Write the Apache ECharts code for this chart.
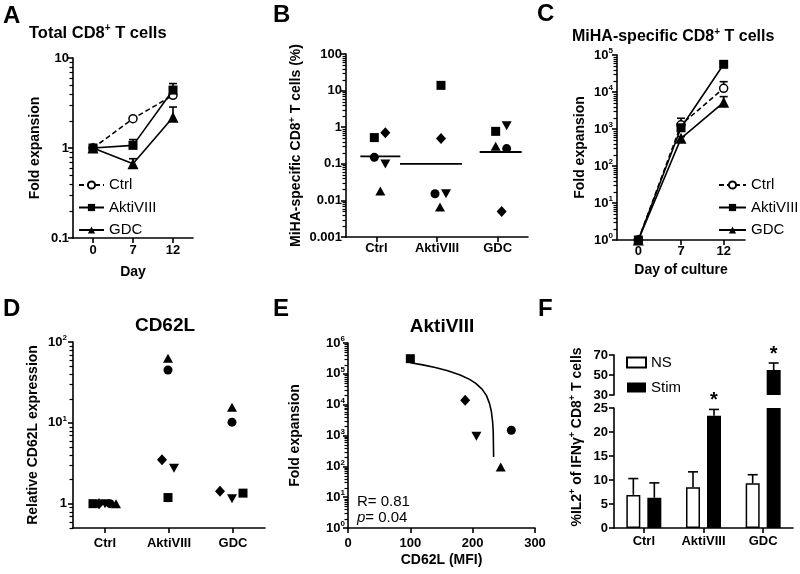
<!DOCTYPE html>
<html>
<head>
<meta charset="utf-8">
<script src="https://cdn.jsdelivr.net/npm/echarts@6.0.0/dist/echarts.min.js"></script>
<style>
html,body{margin:0;padding:0;background:#ffffff;}
#chart{width:800px;height:574px;}
</style>
</head>
<body>
<div id="chart"></div>
<script>
// ===================== DATA =====================
// Panel A – Total CD8+ T cells (fold expansion)
const dayCategories = ['0', '7', '12'];
const aCtrl    = [1, 2.12, 3.85];
const aCtrlErr = [1, 2.22, 4.05];
const aAkti    = [1, 1.07, 4.4];
const aAktiErr = [1, 1.24, 5.2];
const aGdc     = [1, 0.67, 2.2];
const aGdcErr  = [1, 0.76, 2.85];
const aYTicks  = [0.1, 1, 10];

// Panel B – MiHA-specific CD8+ T cells (%), one array per donor symbol
const groupCategories = ['Ctrl', 'AktiVIII', 'GDC'];
const bSquare  = [0.52, 13.9, 0.77];
const bDiamond = [0.70, 0.49, 0.005];
const bCircle  = [0.15, 0.0152, 0.26];
const bDownTri = [0.098, 0.0152, 1.1];
const bUpTri   = [0.018, 0.0066, 0.30];
const bCentral = [0.16, 0.10, 0.21];
const bYTicks  = [0.001, 0.01, 0.1, 1, 10, 100];

// Panel C – MiHA-specific CD8+ T cells (fold expansion)
const cCtrl    = [1, 1300, 12600];
const cCtrlErr = [1, 1950, 19000];
const cAkti    = [1, 1080, 56000];
const cAktiErr = [1, 1250, 62000];
const cGdc     = [1, 560, 5250];
const cGdcErr  = [1, 620, 7500];
const cYTicks  = [1, 10, 100, 1000, 10000, 100000];

// Panel D – Relative CD62L expression
const dSquare  = [1.0, 1.19, 1.35];
const dDiamond = [1.0, 3.5, 1.42];
const dCircle  = [1.0, 45, 10.2];
const dDownTri = [1.0, 2.75, 1.15];
const dUpTri   = [1.0, 63, 15.6];
const dYTicks  = [1, 10, 100];

// Panel E – AktiVIII: CD62L (MFI) vs fold expansion
const eSquare  = [100, 310000];
const eDiamond = [188, 13900];
const eDownTri = [206, 940];
const eCircle  = [262, 1480];
const eUpTri   = [245, 96];
const eFitX = [100, 120, 140, 160, 180, 195, 205, 215, 222, 227, 230, 232, 233, 233.6];
const eFitY = [228000, 195000, 160000, 126000, 92000, 66000, 49000, 32000, 20000, 11000, 6000, 2800, 1300, 200];
const eXTicks = [0, 100, 200, 300];
const eYTicks = [1, 10, 100, 1000, 10000, 100000, 1000000];
const eStats  = ['0.81', '0.04'];

// Panel F – %IL2+ of IFNγ+ CD8+ T cells
const fSeriesNames = ['NS', 'Stim'];
const fNS      = [6.9, 8.5, 9.3];
const fNSErr   = [10.3, 11.7, 11.1];
const fStim    = [6.3, 23.4, 55];
const fStimErr = [9.4, 24.7, 62];
const fStimSig = [false, true, true];
const fLowTicks  = [0, 5, 10, 15, 20, 25];
const fHighTicks = [30, 50, 70];

// ===================== STYLE / LAYOUT =====================
const FONT = '"Liberation Sans", Arial, Helvetica, sans-serif';
const BLACK = '#000000';
const LW = 1.6;

const GRIDS = [
  {left: 73,  top: 58,  width: 120, height: 180}, // A
  {left: 346, top: 54,  width: 182, height: 183}, // B
  {left: 617, top: 55,  width: 128, height: 185}, // C
  {left: 73,  top: 342, width: 192, height: 186}, // D
  {left: 348, top: 343, width: 187, height: 185}, // E
  {left: 614, top: 355, width: 179, height: 40},  // F upper (broken axis)
  {left: 614, top: 408, width: 179, height: 120}  // F lower
];

// jitter (px) of each donor symbol within a category
const JIT_B = {sq: [-2, 4, -2], di: [9, 4, 4], ci: [-2, -2, 9], dn: [9, 9, 9], up: [4, 3, -2]};
const JIT_D = {sq: [-12, -1, 10], di: [-6, -7, -13], ci: [5, -1, -1], dn: [0, 5, -1], up: [11, -1, -1]};
const B_LINE = [{dx: 4, half: 20}, {dx: -6, half: 31}, {dx: 3, half: 21}];
const F_BAR_W = 14, F_OFF = 10.5;

const supRich = {
  b: {fontFamily: FONT, fontWeight: 'bold', fontSize: 13, color: BLACK, lineHeight: 16},
  s: {fontFamily: FONT, fontWeight: 'bold', fontSize: 8, color: BLACK, lineHeight: 8, verticalAlign: 'top'}
};
const nameRich = {
  s: {fontFamily: FONT, fontWeight: 'bold', fontSize: 9, color: BLACK, lineHeight: 9, verticalAlign: 'top'}
};

function decLabel(v) { return '{b|' + String(parseFloat(Number(v).toPrecision(2))) + '}'; }
function powLabel(v) { const e = Math.round(Math.log10(v)); return '{b|10}{s|' + e + '}'; }
function powLabelOne(v) { const e = Math.round(Math.log10(v)); return e === 0 ? '{b|1}' : powLabel(v); }

// positions of the 2..9 x 10^k minor ticks of a log axis (axis decoration, not data)
function minorTicks(min, max) {
  const out = [];
  for (let e = Math.floor(Math.log10(min)) - 1; e <= Math.ceil(Math.log10(max)); e++) {
    for (let k = 2; k <= 9; k++) {
      const v = k * Math.pow(10, e);
      if (v >= min * 0.999 && v <= max * 1.001) out.push(v);
    }
  }
  return out;
}

const axisLineStyle = {color: BLACK, width: LW};
const nameStyle = {fontFamily: FONT, fontWeight: 'bold', fontSize: 14, color: BLACK, lineHeight: 18, rich: nameRich};

function logY(grid, min, max, ticks, fmt, name, gap, margin) {
  return {
    type: 'log', logBase: 10, gridIndex: grid, min: min, max: max, position: 'left',
    splitLine: {show: false}, minorTick: {show: false}, minorSplitLine: {show: false},
    name: name, nameLocation: 'middle', nameGap: gap, nameRotate: 90, nameTextStyle: nameStyle,
    axisLine: {show: true, onZero: false, lineStyle: axisLineStyle},
    axisTick: {show: true, length: 5, customValues: ticks, lineStyle: axisLineStyle},
    axisLabel: {show: true, margin: margin, customValues: ticks, formatter: fmt, rich: supRich}
  };
}

// minor ticks drawn through the log axis scale; x is the axis start (category: half a band left of index 0)
function minorTickSeries(xi, yi, min, max, isCategory) {
  return {
    type: 'custom', xAxisIndex: xi, yAxisIndex: yi, silent: true, animation: false, z: 5, clip: false,
    data: minorTicks(min, max).map(v => [0, v]),
    renderItem: function (params, api) {
      const v = api.value(1);
      const p = api.coord([0, v]);
      let x0 = p[0];
      if (isCategory) x0 -= api.size([1, 1], [0, v])[0] / 2;
      const y = Math.round(p[1]) + 0.5;
      return {type: 'line', shape: {x1: x0 - 3.5, y1: y, x2: x0, y2: y}, style: {stroke: BLACK, lineWidth: 1.2}};
    }
  };
}

function catX(grid, data, name, gap, margin) {
  return {
    type: 'category', gridIndex: grid, data: data, boundaryGap: true,
    name: name, nameLocation: 'middle', nameGap: gap, nameTextStyle: nameStyle,
    axisLine: {show: true, onZero: false, lineStyle: axisLineStyle},
    axisTick: {show: true, alignWithLabel: true, length: 5, lineStyle: axisLineStyle},
    axisLabel: {margin: margin, fontFamily: FONT, fontWeight: 'bold', fontSize: 13, color: BLACK},
    splitLine: {show: false}
  };
}

function lineSeries(name, data, xi, yi, shape, size, dashed) {
  const open = shape === 'circle';
  return {
    type: 'line', name: name, data: data, xAxisIndex: xi, yAxisIndex: yi,
    symbol: shape, symbolSize: size, showSymbol: true, showAllSymbol: true,
    lineStyle: {color: BLACK, width: LW, type: dashed ? [5, 3] : 'solid'},
    itemStyle: {color: open ? '#ffffff' : BLACK, borderColor: BLACK, borderWidth: open ? 1.5 : 0},
    emphasis: {disabled: true}, z: open ? 3 : 4, animation: false
  };
}

function errSeries(xi, yi, vals, errs, capHalf, offset, sig) {
  const data = [];
  vals.forEach((v, i) => { if (v != null && errs[i] != null) data.push([i, v, errs[i], sig && sig[i] ? 1 : 0]); });
  return {
    type: 'custom', xAxisIndex: xi, yAxisIndex: yi, data: data, silent: true, animation: false, z: 2,
    renderItem: function (params, api) {
      const p1 = api.coord([api.value(0), api.value(1)]);
      const p2 = api.coord([api.value(0), api.value(2)]);
      const x = p1[0] + offset;
      const children = [
        {type: 'line', shape: {x1: x, y1: p1[1], x2: x, y2: p2[1]}, style: {stroke: BLACK, lineWidth: LW}},
        {type: 'line', shape: {x1: x - capHalf, y1: p2[1], x2: x + capHalf, y2: p2[1]}, style: {stroke: BLACK, lineWidth: LW}}
      ];
      if (api.value(3) === 1) {
        children.push({type: 'text', style: {text: '*', x: x, y: p2[1] + 1, align: 'center', verticalAlign: 'bottom',
          fontFamily: FONT, fontWeight: 'bold', fontSize: 20, fill: BLACK}});
      }
      return {type: 'group', children: children};
    }
  };
}

function scatterCat(name, vals, jit, xi, yi, shape, size, rot) {
  return {
    type: 'scatter', name: name, xAxisIndex: xi, yAxisIndex: yi, symbol: shape, symbolSize: size,
    symbolRotate: rot || 0,
    data: vals.map((v, i) => ({value: v, symbolOffset: [jit[i], 0]})),
    itemStyle: {color: BLACK, opacity: 1}, emphasis: {disabled: true}, animation: false, z: 4
  };
}

function scatterXY(pt, xi, yi, shape, size, rot) {
  return {
    type: 'scatter', xAxisIndex: xi, yAxisIndex: yi, symbol: shape, symbolSize: size, symbolRotate: rot || 0,
    data: [pt], itemStyle: {color: BLACK, opacity: 1}, emphasis: {disabled: true}, animation: false, z: 4
  };
}

function gtext(x, y, text, o) {
  o = o || {};
  return {
    type: 'text', x: x, y: y, rotation: o.rotation || 0, silent: true, z: 10,
    style: {
      text: text, x: 0, y: 0, fill: BLACK,
      fontFamily: FONT, fontWeight: o.weight || 'bold', fontSize: o.size || 14, fontStyle: 'normal',
      lineHeight: o.lineHeight || (o.size || 14) + 4,
      align: o.align || 'left', verticalAlign: 'middle',
      rich: o.rich || {}
    }
  };
}

const titleSup = (sz) => ({s: {fontFamily: FONT, fontWeight: 'bold', fontSize: sz, fill: BLACK, color: BLACK, lineHeight: sz, verticalAlign: 'top'}});

// ===================== OPTION =====================
const legendText = {fontFamily: FONT, fontSize: 15, color: BLACK};

// axis indices: x 0..6 and y 0..6 map to grids A,B,C,D,E,F-upper,F-lower
const option = {
  backgroundColor: '#ffffff',
  animation: false,
  textStyle: {fontFamily: FONT},
  grid: GRIDS.map(g => Object.assign({containLabel: false, outerBoundsMode: 'none'}, g)),
  legend: [
    {data: ['Ctrl', 'AktiVIII', 'GDC'], orient: 'vertical', left: 78, top: 177.5, itemWidth: 25, itemHeight: 9,
     itemGap: 7.5, padding: 0, selectedMode: false, textStyle: legendText},
    {data: ['Ctrl', 'AktiVIII', 'GDC'], orient: 'vertical', left: 718, top: 177.5, itemWidth: 27, itemHeight: 9,
     itemGap: 7.5, padding: 0, selectedMode: false, textStyle: legendText},
    {data: fSeriesNames, orient: 'vertical', left: 626, top: 355, itemWidth: 19, itemHeight: 10,
     itemGap: 10, padding: 0, selectedMode: false, icon: 'rect', textStyle: legendText}
  ],
  xAxis: [
    catX(0, dayCategories, 'Day', 25, 6),
    catX(1, groupCategories, '', 0, 5),
    catX(2, dayCategories, 'Day of culture', 21, 5),
    catX(3, groupCategories, '', 0, 9),
    {type: 'value', gridIndex: 4, min: 0, max: 300, interval: 100,
     name: 'CD62L (MFI)', nameLocation: 'middle', nameGap: 20, nameTextStyle: nameStyle,
     axisLine: {show: true, onZero: false, lineStyle: axisLineStyle},
     axisTick: {show: true, length: 5, lineStyle: axisLineStyle},
     axisLabel: {margin: 9, fontFamily: FONT, fontWeight: 'bold', fontSize: 13, color: BLACK},
     splitLine: {show: false}},
    {type: 'category', gridIndex: 5, data: groupCategories, show: false},
    catX(6, groupCategories, '', 0, 7)
  ],
  yAxis: [
    logY(0, 0.1, 10, aYTicks, decLabel, 'Fold expansion', 29, 4),
    logY(1, 0.001, 100, bYTicks, decLabel, 'MiHA-specific CD8{s|+} T cells (%)', 39, 4),
    logY(2, 1, 100000, cYTicks, powLabel, 'Fold expansion', 28, 4),
    logY(3, 0.5, 100, dYTicks, powLabelOne, 'Relative CD62L expression', 31, 6),
    logY(4, 1, 1000000, eYTicks, powLabel, 'Fold expansion', 44, 3),
    {type: 'value', gridIndex: 5, min: 30, max: 70, position: 'left',
     axisLine: {show: true, onZero: false, lineStyle: axisLineStyle},
     axisTick: {show: true, length: 5, customValues: fHighTicks, lineStyle: axisLineStyle},
     axisLabel: {margin: 6, customValues: fHighTicks, fontFamily: FONT, fontWeight: 'bold', fontSize: 13, color: BLACK},
     splitLine: {show: false}},
    {type: 'value', gridIndex: 6, min: 0, max: 25, interval: 5, position: 'left',
     axisLine: {show: true, onZero: false, lineStyle: axisLineStyle},
     axisTick: {show: true, length: 5, lineStyle: axisLineStyle},
     axisLabel: {margin: 6, fontFamily: FONT, fontWeight: 'bold', fontSize: 13, color: BLACK},
     splitLine: {show: false}}
  ],
  series: [
    // ---- minor ticks of the log axes ----
    minorTickSeries(0, 0, 0.1, 10, true),
    minorTickSeries(1, 1, 0.001, 100, true),
    minorTickSeries(2, 2, 1, 100000, true),
    minorTickSeries(3, 3, 0.5, 100, true),
    minorTickSeries(4, 4, 1, 1000000, false),
    // ---- A ----
    errSeries(0, 0, aCtrl, aCtrlErr, 4, 0),
    errSeries(0, 0, aAkti, aAktiErr, 4, 0),
    errSeries(0, 0, aGdc, aGdcErr, 4, 0),
    lineSeries('Ctrl', aCtrl, 0, 0, 'circle', 8, true),
    lineSeries('AktiVIII', aAkti, 0, 0, 'rect', 9, false),
    lineSeries('GDC', aGdc, 0, 0, 'triangle', 11, false),
    // ---- B ----
    {type: 'custom', xAxisIndex: 1, yAxisIndex: 1, silent: true, animation: false, z: 3,
     data: bCentral.map((v, i) => [i, v]),
     renderItem: function (params, api) {
       const i = api.value(0);
       const p = api.coord([i, api.value(1)]);
       const m = B_LINE[i];
       return {type: 'line', shape: {x1: p[0] + m.dx - m.half, y1: p[1], x2: p[0] + m.dx + m.half, y2: p[1]},
               style: {stroke: BLACK, lineWidth: 1.8}};
     }},
    scatterCat('sq', bSquare, JIT_B.sq, 1, 1, 'rect', 9),
    scatterCat('di', bDiamond, JIT_B.di, 1, 1, 'diamond', [10, 11]),
    scatterCat('ci', bCircle, JIT_B.ci, 1, 1, 'circle', 9),
    scatterCat('dn', bDownTri, JIT_B.dn, 1, 1, 'triangle', [10, 9], 180),
    scatterCat('up', bUpTri, JIT_B.up, 1, 1, 'triangle', [10, 9]),
    // ---- C ----
    errSeries(2, 2, cCtrl, cCtrlErr, 4, 0),
    errSeries(2, 2, cAkti, cAktiErr, 4, 0),
    errSeries(2, 2, cGdc, cGdcErr, 4, 0),
    lineSeries('Ctrl', cCtrl, 2, 2, 'circle', 8, true),
    lineSeries('AktiVIII', cAkti, 2, 2, 'rect', 9, false),
    lineSeries('GDC', cGdc, 2, 2, 'triangle', 11, false),
    // ---- D ----
    scatterCat('sq', dSquare, JIT_D.sq, 3, 3, 'rect', 9),
    scatterCat('di', dDiamond, JIT_D.di, 3, 3, 'diamond', [10, 11]),
    scatterCat('ci', dCircle, JIT_D.ci, 3, 3, 'circle', 9),
    scatterCat('dn', dDownTri, JIT_D.dn, 3, 3, 'triangle', [10, 9], 180),
    scatterCat('up', dUpTri, JIT_D.up, 3, 3, 'triangle', [10, 9]),
    // ---- E ----
    {type: 'line', xAxisIndex: 4, yAxisIndex: 4, data: eFitX.map((x, i) => [x, eFitY[i]]), symbol: 'none',
     lineStyle: {color: BLACK, width: LW}, silent: true, animation: false, z: 3},
    scatterXY(eSquare, 4, 4, 'rect', 9),
    scatterXY(eDiamond, 4, 4, 'diamond', [10, 11]),
    scatterXY(eDownTri, 4, 4, 'triangle', [10, 9], 180),
    scatterXY(eCircle, 4, 4, 'circle', 9),
    scatterXY(eUpTri, 4, 4, 'triangle', [10, 9]),
    // ---- F (lower segment 0-25) ----
    {type: 'bar', name: 'NS', xAxisIndex: 6, yAxisIndex: 6, data: fNS, barWidth: F_BAR_W, barGap: '50%', clip: true,
     itemStyle: {color: '#ffffff', borderColor: BLACK, borderWidth: 1.5}, emphasis: {disabled: true}, animation: false, z: 3},
    {type: 'bar', name: 'Stim', xAxisIndex: 6, yAxisIndex: 6, data: fStim, barWidth: F_BAR_W, barGap: '50%', clip: true,
     itemStyle: {color: BLACK, borderColor: BLACK, borderWidth: 0}, emphasis: {disabled: true}, animation: false, z: 3},
    errSeries(6, 6, fNS.map(v => v <= 25 ? v : null), fNSErr, 5, -F_OFF),
    errSeries(6, 6, fStim.map(v => v <= 25 ? v : null), fStimErr, 5, F_OFF, fStimSig),
    // ---- F (upper segment 30-70) ----
    {type: 'bar', name: 'NS', xAxisIndex: 5, yAxisIndex: 5, data: fNS.map(v => v >= 30 ? v : '-'), barWidth: F_BAR_W, barGap: '50%', clip: true,
     itemStyle: {color: '#ffffff', borderColor: BLACK, borderWidth: 1.5}, emphasis: {disabled: true}, animation: false, z: 3},
    {type: 'bar', name: 'Stim', xAxisIndex: 5, yAxisIndex: 5, data: fStim.map(v => v >= 30 ? v : '-'), barWidth: F_BAR_W, barGap: '50%', clip: true,
     itemStyle: {color: BLACK, borderColor: BLACK, borderWidth: 0}, emphasis: {disabled: true}, animation: false, z: 3},
    errSeries(5, 5, fStim.map(v => v >= 30 ? v : null), fStimErr, 5, F_OFF, fStimSig)
  ],
  graphic: [
    gtext(3, 16, 'A', {size: 24}),
    gtext(273, 15, 'B', {size: 24}),
    gtext(537, 14, 'C', {size: 24}),
    gtext(3, 309, 'D', {size: 24}),
    gtext(273, 309, 'E', {size: 24}),
    gtext(538, 309, 'F', {size: 24}),
    gtext(29, 33, 'Total CD8{s|+} T cells', {size: 16.5, lineHeight: 20, rich: titleSup(10)}),
    gtext(572, 37, 'MiHA-specific CD8{s|+} T cells', {size: 16, lineHeight: 20, rich: titleSup(10)}),
    gtext(165, 326, 'CD62L', {size: 19, align: 'center'}),
    gtext(442, 327, 'AktiVIII', {size: 19, align: 'center'}),
    gtext(577, 437, '%IL2{s|+} of IFNγ{s|+} CD8{s|+} T cells', {size: 14, lineHeight: 18, align: 'center', rotation: Math.PI / 2, rich: titleSup(9)}),
    gtext(357, 502, 'R= ' + eStats[0], {size: 15, weight: 'normal'}),
    gtext(357, 518, '{i|p}= ' + eStats[1], {size: 15, weight: 'normal',
      rich: {i: {fontFamily: FONT, fontSize: 15, fontStyle: 'italic', fill: BLACK, color: BLACK, lineHeight: 19}}})
  ]
};

const chart = echarts.init(document.getElementById('chart'), null, {renderer: 'canvas', width: 800, height: 574});
chart.setOption(option);
</script>
</body>
</html>
